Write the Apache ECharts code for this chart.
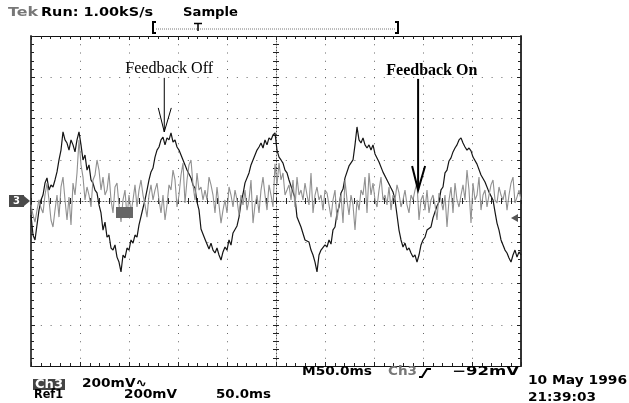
<!DOCTYPE html>
<html><head><meta charset="utf-8">
<script src="https://cdn.jsdelivr.net/npm/echarts@6/dist/echarts.min.js"></script>
<style>html,body{margin:0;padding:0;background:#fff;}#c{width:629px;height:403px;}</style>
</head><body><div id="c"></div>
<script>
const screenMs = 500;      // 10 div x 50.0 ms
const xDivMs = 50;
const yDivMv = 200;        // 200 mV / div
const yHalfMv = 800;       // 4 div above / below ground

// Ch3, feedback off (black trace), mV
const feedbackOffMv = [
  -68,-165,-189,-116,-44,5,29,87,112,53,
  78,68,102,141,199,247,335,296,281,247,
  296,272,238,296,335,272,199,223,150,175,
  102,87,53,39,-19,-58,-141,-102,-175,-165,
  -228,-238,-213,-272,-296,-344,-262,-276,-228,-238,
  -189,-204,-165,-175,-116,-107,-34,5,53,102,
  141,160,213,247,262,296,310,272,306,296,
  330,286,296,262,247,223,199,175,150,141,
  112,77,63,-5,-43,-136,-140,-185,-179,-233,
  -204,-238,-252,-228,-262,-286,-247,-223,-238,-189,
  -214,-155,-160,-121,-78,-9,34,88,92,136,
  175,199,223,247,262,281,257,296,272,306,
  296,320,330,247,213,199,184,150,136,102,
  97,43,15,-78,-82,-126,-131,-189,-194,-199,
  -238,-262,-296,-344,-262,-238,-247,-213,-223,-189,
  -209,-140,-126,-58,-29,39,58,112,106,170,
  175,199,272,359,296,281,306,272,257,272,
  247,272,228,223,189,185,140,136,102,97,
  63,44,5,-68,-141,-189,-223,-204,-238,-228,
  -252,-272,-262,-296,-262,-213,-189,-175,-141,-150,
  -126,-82,-78,-24,-5,54,68,136,150,194,
  209,238,257,272,296,306,281,262,247,257,
  243,213,219,179,170,126,126,92,88,43,
  39,5,-53,-107,-141,-189,-213,-238,-252,-276,
  -296,-262,-238,-272,-247,-262
];

// Ref1, feedback on (grey trace), mV
const feedbackOnMv = [
  -19,-68,-102,-44,5,-34,-58,29,87,5,
  -92,-126,-44,29,-78,68,116,5,-92,19,
  -116,87,29,136,296,175,116,5,68,29,
  -29,102,126,199,150,53,116,29,53,136,
  5,-58,68,87,-19,-102,5,53,-78,29,
  -58,5,78,-29,53,102,29,-19,-78,29,
  78,5,53,87,5,-58,29,-92,-19,78,
  53,150,102,-29,29,126,184,-10,102,175,
  199,78,5,136,53,68,5,53,5,116,
  78,29,-58,68,-19,-107,-44,5,-58,68,
  29,-29,53,5,-68,29,-19,53,-44,5,
  102,-107,-19,29,-58,53,116,29,-44,78,
  29,-29,180,78,184,102,136,29,53,78,
  5,102,-29,116,29,53,5,87,29,-19,
  136,-58,29,68,5,29,-44,53,39,-19,
  -78,5,53,-92,-19,29,-107,102,5,-68,
  29,-19,-141,5,-44,53,29,116,-58,136,
  29,87,5,-29,53,116,5,29,-19,68,
  -44,29,5,78,39,-29,5,53,-19,-58,
  29,5,53,87,-92,5,29,-44,53,-58,
  5,29,-19,-92,39,5,-44,29,-126,5,
  68,-58,87,5,-29,29,78,5,150,53,
  -107,87,5,29,116,-44,29,53,-29,29,
  78,102,5,-10,68,29,5,53,-44,29,
  87,116,-10,19,53,5
];

// Annotations (data units: ms, mV)
const annotations = [
  {text:'Feedback Off', bold:false, labelMs:141, labelMv:643, arrowMs:136, tailMv:597, tipMv:335},
  {text:'Feedback On',  bold:true,  labelMs:409, labelMv:630, arrowMs:395, tailMv:592, tipMv:53}
];

// Screen readouts
const headerTexts = [['Tek','#777'],['Run: 1.00kS/s','#000'],['Sample','#000']];
const footerTexts = ['M50.0ms','Ch3','\u221292mV','10 May 1996','21:39:03','200mV\u223F','Ref1','200mV','50.0ms'];

// ---- Chart ----
const sampleStepMs = screenMs / (feedbackOffMv.length - 1);
const offData = feedbackOffMv.map((v,i)=>[i*sampleStepMs, v]);
const onData = feedbackOnMv.map((v,i)=>[i*sampleStepMs, v]);

const G = {left:31, top:36, width:490, height:330};
const chart = echarts.init(document.getElementById('c'), null, {renderer:'canvas', width:629, height:403});

const tickStyle = {color:'#222', width:1};
function xAx(extra){
  return Object.assign({
    type:'value', min:0, max:screenMs, interval:xDivMs,
    axisLabel:{show:false}, splitLine:{show:false},
    axisLine:{show:true, onZero:false, lineStyle:{color:'#111', width:1}},
    axisTick:{show:true, inside:true, length:4, lineStyle:tickStyle},
    minorTick:{show:true, splitNumber:5, length:3, lineStyle:tickStyle}
  }, extra);
}
function yAx(extra){
  return Object.assign({
    type:'value', min:-yHalfMv, max:yHalfMv, interval:yDivMv,
    axisLabel:{show:false}, splitLine:{show:false},
    axisLine:{show:true, onZero:false, lineStyle:{color:'#444', width:2}},
    axisTick:{show:true, inside:true, length:4, lineStyle:tickStyle},
    minorTick:{show:true, splitNumber:5, length:3, lineStyle:tickStyle}
  }, extra);
}

const option = {
  animation:false,
  backgroundColor:'#fff',
  grid:{left:G.left, top:G.top, width:G.width, height:G.height, containLabel:false},
  xAxis:[
    xAx({position:'bottom', splitLine:{show:true, lineStyle:{color:'#666', width:1, type:[1, G.height/40 - 1]}}}),
    xAx({position:'top'}),
    xAx({position:'bottom', offset:-G.height/2,
         axisLine:{show:true, onZero:false, lineStyle:{color:'#555', width:1, type:[1,2]}},
         axisTick:{show:true, inside:true, length:3, lineStyle:tickStyle},
         minorTick:{show:true, splitNumber:5, length:3, lineStyle:tickStyle}}),
    xAx({position:'bottom', offset:-G.height/2, axisLine:{show:false},
         axisTick:{show:true, inside:false, length:3, lineStyle:tickStyle},
         minorTick:{show:true, splitNumber:5, length:3, lineStyle:tickStyle}})
  ],
  yAxis:[
    yAx({position:'left', splitLine:{show:true, lineStyle:{color:'#666', width:1, type:[1, G.width/50 - 1]}}}),
    yAx({position:'right', axisLine:{show:true, onZero:false, lineStyle:{color:'#333', width:2}}}),
    yAx({position:'left', offset:-G.width/2,
         axisLine:{show:true, onZero:false, lineStyle:{color:'#555', width:1, type:[1,2]}},
         axisTick:{show:true, inside:true, length:3, lineStyle:tickStyle},
         minorTick:{show:true, splitNumber:5, length:3, lineStyle:tickStyle}}),
    yAx({position:'left', offset:-G.width/2, axisLine:{show:false},
         axisTick:{show:true, inside:false, length:3, lineStyle:tickStyle},
         minorTick:{show:true, splitNumber:5, length:3, lineStyle:tickStyle}})
  ],
  series:[
    {name:'Feedback Off', type:'line', xAxisIndex:0, yAxisIndex:0, data:offData, showSymbol:false, symbol:'none',
     lineStyle:{color:'#151515', width:1.2}, z:3},
    {name:'Feedback On', type:'line', xAxisIndex:0, yAxisIndex:0, data:onData, showSymbol:false, symbol:'none',
     lineStyle:{color:'#909090', width:1.1}, z:4}
  ]
};
chart.setOption(option);

// ---- Overlay graphics ----
const mctx = document.createElement('canvas').getContext('2d');
function fitText(text, left, midY, width, font, fill){
  mctx.font = font;
  const w = mctx.measureText(text).width || width;
  return {type:'text', x:left, y:midY, scaleX:width/w, z:20, silent:true,
    style:{text:text, x:0, y:0, font:font, fill:fill, align:'left', verticalAlign:'middle', textAlign:'left', textVerticalAlign:'middle'}};
}
const tek = "bold 12px 'DejaVu Sans'";
const g = [];
// header
const hdrPos = [[8,30],[41,112],[183,55]];
headerTexts.forEach((t,i)=>g.push(fitText(t[0], hdrPos[i][0], 12.5, hdrPos[i][1], tek, t[1])));
// trigger-position bar
g.push({type:'polyline', z:20, shape:{points:[[156,22],[153,22],[153,33],[156,33]]}, style:{stroke:'#000', lineWidth:2, fill:null}});
g.push({type:'polyline', z:20, shape:{points:[[395,22],[398,22],[398,33],[395,33]]}, style:{stroke:'#000', lineWidth:2, fill:null}});
g.push({type:'line', z:20, shape:{x1:156,y1:29,x2:395,y2:29}, style:{stroke:'#777', lineWidth:1, lineDash:[1,1]}});
g.push({type:'line', z:20, shape:{x1:194,y1:23.5,x2:202,y2:23.5}, style:{stroke:'#000', lineWidth:1.5}});
g.push({type:'line', z:20, shape:{x1:198,y1:23,x2:198,y2:31}, style:{stroke:'#000', lineWidth:1.5}});
// footer
const ftPos = [[302,372,70,'#000'],[388,372,29,'#777'],[452,372,67,'#000'],[528,380.5,99,'#000'],[528,397.5,68,'#000'],
               [82,384,65,'#000'],[34,394.5,29,'#000'],[124,394.5,53,'#000'],[216,394.5,55,'#000']];
footerTexts.forEach((t,i)=>g.push(fitText(t, ftPos[i][0], ftPos[i][1], ftPos[i][2], tek, ftPos[i][3])));
g.push({type:'rect', z:19, shape:{x:33,y:379,width:32,height:11}, style:{fill:'#444'}});
g.push(fitText('Ch3', 35, 384.5, 28, tek, '#fff'));
// trigger slope symbol
g.push({type:'polyline', z:20, shape:{points:[[419,377],[422,377],[427,369],[431,369]]}, style:{stroke:'#000', lineWidth:2, fill:null}});
// channel ground marker
g.push({type:'rect', z:20, shape:{x:9,y:195,width:15,height:12}, style:{fill:'#4a4a4a'}});
g.push({type:'polygon', z:20, shape:{points:[[24,196],[30,201],[24,206]]}, style:{fill:'#4a4a4a'}});
g.push({type:'text', z:21, x:16.5, y:201, style:{text:'3', font:"bold 10px 'DejaVu Sans'", fill:'#fff', align:'center', verticalAlign:'middle', textAlign:'center', textVerticalAlign:'middle'}});
// trigger level marker & ref marker
g.push({type:'polygon', z:20, shape:{points:[[511,218],[518,214],[518,222]]}, style:{fill:'#555'}});
g.push({type:'rect', z:20, shape:{x:116,y:207,width:17,height:11}, style:{fill:'#666'}});

// annotations in data coordinates
annotations.forEach(a=>{
  const lab = chart.convertToPixel({gridIndex:0}, [a.labelMs, a.labelMv]);
  const tail = chart.convertToPixel({gridIndex:0}, [a.arrowMs, a.tailMv]);
  const tip = chart.convertToPixel({gridIndex:0}, [a.arrowMs, a.tipMv]);
  const font = (a.bold ? 'bold ' : '') + "16px 'Liberation Serif'";
  const width = a.bold ? 91 : 88;
  g.push(fitText(a.text, lab[0] - width/2, lab[1], width, font, '#000'));
  const lw = a.bold ? 2 : 1;
  g.push({type:'line', z:20, shape:{x1:tail[0],y1:tail[1],x2:tip[0],y2:tip[1]}, style:{stroke:'#000', lineWidth:lw}});
  g.push({type:'polyline', z:20, shape:{points:[[tip[0]-6, tip[1]-24],[tip[0], tip[1]],[tip[0]+7, tip[1]-24]]}, style:{stroke:'#000', lineWidth:lw, fill:null}});
});
chart.setOption({graphic:{elements:g}});
</script>
</body></html>
